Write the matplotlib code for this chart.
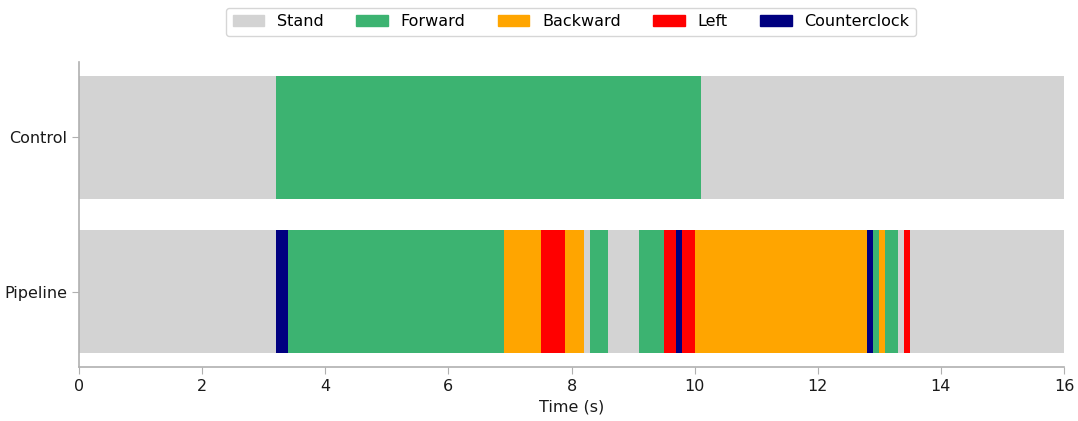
import matplotlib
matplotlib.use("Agg")
import matplotlib.pyplot as plt
from matplotlib.patches import Patch

actions = ["Stand", "Forward", "Backward", "Left", "Counterclock"]
colors = {"Stand": "lightgray", "Forward": "mediumseagreen", "Backward": "orange",
          "Left": "red", "Counterclock": "navy"}

rows = ["Control", "Pipeline"]

control_bounds = [0, 3.2, 10.1, 16]
control_actions = ["Stand", "Forward", "Stand"]

pipeline_bounds = [0, 3.2, 3.4, 6.9, 7.5, 7.9, 8.2, 8.3, 8.6, 9.1, 9.5, 9.7, 9.8, 10.0,
                   12.8, 12.9, 13.0, 13.1, 13.3, 13.4, 13.5, 16]
pipeline_actions = ["Stand", "Counterclock", "Forward", "Backward", "Left", "Backward",
                    "Stand", "Forward", "Stand", "Forward", "Left", "Counterclock", "Left",
                    "Backward", "Counterclock", "Forward", "Backward", "Forward", "Stand",
                    "Left", "Stand"]

FS = 11.5

fig = plt.figure(figsize=(10.78, 4.21), dpi=100)
ax = fig.add_axes([79/1078, 54/421, (1064-79)/1078, (367-62)/421])

for yi, (bounds, acts) in enumerate([(control_bounds, control_actions),
                                     (pipeline_bounds, pipeline_actions)]):
    starts = bounds[:-1]
    widths = [b - a for a, b in zip(bounds[:-1], bounds[1:])]
    ax.barh([yi] * len(acts), widths, left=starts, height=0.8,
            color=[colors[a] for a in acts], linewidth=0)

ax.set_xlim(0, 16)
ax.set_ylim(1.49, -0.49)
ax.set_yticks([0, 1])
ax.set_yticklabels(rows, fontsize=FS)
ax.set_xticks(range(0, 17, 2))
ax.tick_params(axis='x', labelsize=FS)
ax.set_xlabel("Time (s)", fontsize=FS, color="#1a1a1a")
for s in ["top", "right"]:
    ax.spines[s].set_visible(False)
for s in ["left", "bottom"]:
    ax.spines[s].set_color("#b0b0b0")
    ax.spines[s].set_linewidth(1.2)
ax.tick_params(colors="#b0b0b0", labelcolor="#1a1a1a", length=5)

handles = [Patch(color=colors[a], label=a) for a in actions]
fig.legend(handles=handles, loc="upper center", bbox_to_anchor=(571/1078, 1 - 8/421),
           borderaxespad=0, ncol=5, fontsize=FS, frameon=True, columnspacing=2.0)

fig.savefig("out.png", dpi=100)
